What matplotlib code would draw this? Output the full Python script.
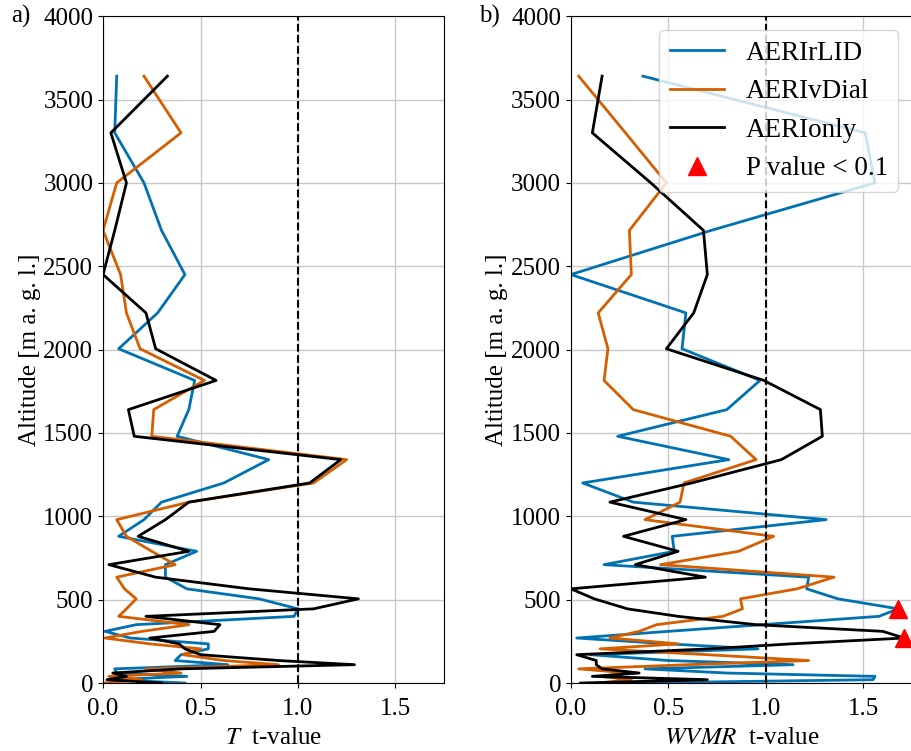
import matplotlib
matplotlib.use('Agg')
import matplotlib.pyplot as plt

plt.rcParams['font.family'] = ['Liberation Serif', 'DejaVu Serif']
plt.rcParams['mathtext.fontset'] = 'stix'
plt.rcParams['font.size'] = 18

# retrieval levels [m a.g.l.]
alt = [0, 20, 40, 60, 85, 110, 135, 170, 205, 235, 270, 310, 350, 400, 445, 505,
       565, 635, 710, 790, 880, 980, 1085, 1200, 1340, 1480, 1640, 1815, 2005,
       2220, 2450, 2715, 3000, 3300, 3640]

# temperature t-values
t_rlid = [0.42, 0.05, 0.43, 0.07, 0.06, 0.64, 0.37, 0.40, 0.54, 0.54, 0.14, 0.01,
          0.17, 0.98, 1.00, 0.80, 0.43, 0.32, 0.32, 0.48, 0.08, 0.21, 0.30, 0.62,
          0.85, 0.38, 0.44, 0.47, 0.08, 0.28, 0.42, 0.30, 0.21, 0.06, 0.07]
t_vdial = [0.00, 0.20, 0.03, 0.40, 0.22, 0.90, 0.62, 0.41, 0.50, 0.24, 0.01, 0.20,
           0.44, 0.08, 0.12, 0.17, 0.11, 0.07, 0.37, 0.25, 0.12, 0.07, 0.44, 1.08,
           1.25, 0.25, 0.26, 0.52, 0.19, 0.12, 0.09, 0.00, 0.07, 0.40, 0.21]
t_only = [0.30, 0.02, 0.12, 0.05, 0.40, 1.29, 0.90, 0.50, 0.42, 0.39, 0.24, 0.57,
          0.60, 0.22, 1.08, 1.31, 0.75, 0.27, 0.03, 0.44, 0.18, 0.32, 0.44, 1.06,
          1.22, 0.16, 0.13, 0.58, 0.27, 0.22, 0.00, 0.06, 0.12, 0.04, 0.33]

# water vapour mixing ratio t-values
q_rlid = [0.30, 1.55, 1.56, 0.80, 0.38, 1.14, 0.50, 0.10, 0.96, 0.50, 0.03, 0.50,
          0.98, 1.58, 1.68, 1.37, 1.21, 1.22, 0.17, 0.53, 0.52, 1.31, 0.32, 0.06,
          0.81, 0.24, 0.80, 0.97, 0.57, 0.59, 0.00, 0.72, 1.56, 1.51, 0.37]
q_vdial = [0.14, 0.31, 0.15, 0.30, 0.04, 0.60, 1.22, 0.70, 0.15, 0.55, 0.20, 0.35,
           0.44, 0.78, 0.88, 0.87, 1.16, 1.35, 0.46, 0.86, 1.04, 0.38, 0.56, 0.58,
           0.95, 0.82, 0.32, 0.17, 0.19, 0.14, 0.31, 0.30, 0.49, 0.28, 0.04]
q_only = [0.05, 0.70, 0.11, 0.35, 0.16, 0.13, 0.13, 0.03, 0.71, 1.13, 1.71, 1.60,
          0.95, 0.55, 0.29, 0.12, 0.00, 0.69, 0.33, 0.55, 0.27, 0.59, 0.20, 0.62,
          1.08, 1.29, 1.28, 0.99, 0.49, 0.63, 0.70, 0.68, 0.41, 0.11, 0.16]

# significant levels (p < 0.1)
sig_alt = [445, 270]
sig_t = [1.68, 1.71]

c_rlid = '#0072B2'
c_vdial = '#D55E00'
c_only = 'black'

fig = plt.figure(figsize=(9.12, 7.51), dpi=100)
ax1 = fig.add_axes([0.113, 0.0905, 0.374, 0.888])
ax2 = fig.add_axes([0.626, 0.0905, 0.374, 0.888])

panels = [(ax1, t_rlid, t_vdial, t_only, '$T$  t-value', 'a)'),
          (ax2, q_rlid, q_vdial, q_only, '$WVMR$  t-value', 'b)')]

for ax, rlid, vdial, only, xlab, tag in panels:
    ax.plot(rlid, alt, color=c_rlid, lw=2, label='AERIrLID')
    ax.plot(vdial, alt, color=c_vdial, lw=2, label='AERIvDial')
    ax.plot(only, alt, color=c_only, lw=2, label='AERIonly')
    ax.axvline(1.0, color='black', ls='--', lw=1.5)
    ax.set_xlim(0, 1.75)
    ax.set_ylim(0, 4000)
    ax.set_xticks([0, 0.5, 1.0, 1.5])
    ax.set_yticks(range(0, 4001, 500))
    ax.grid(True, color='#c8c8c8', lw=1)
    ax.set_axisbelow(True)
    ax.set_xlabel(xlab, labelpad=5)
    ax.set_ylabel('Altitude [m a. g. l.]', labelpad=2)
    ax.tick_params(labelsize=18)
    ax.tick_params(axis='x', pad=7)
    ax.text(-0.27, 1.0, tag, transform=ax.transAxes, ha='left', va='center',
            fontsize=18)

ax2.plot(sig_t, sig_alt, ls='none', marker='^', color='red', ms=13,
         clip_on=False, zorder=5, label='P value < 0.1')
ax2.legend(loc='upper right', fontsize=19.5, handlelength=2.0,
           borderaxespad=0.5, framealpha=0.8)

fig.savefig('out.png', dpi=100)
